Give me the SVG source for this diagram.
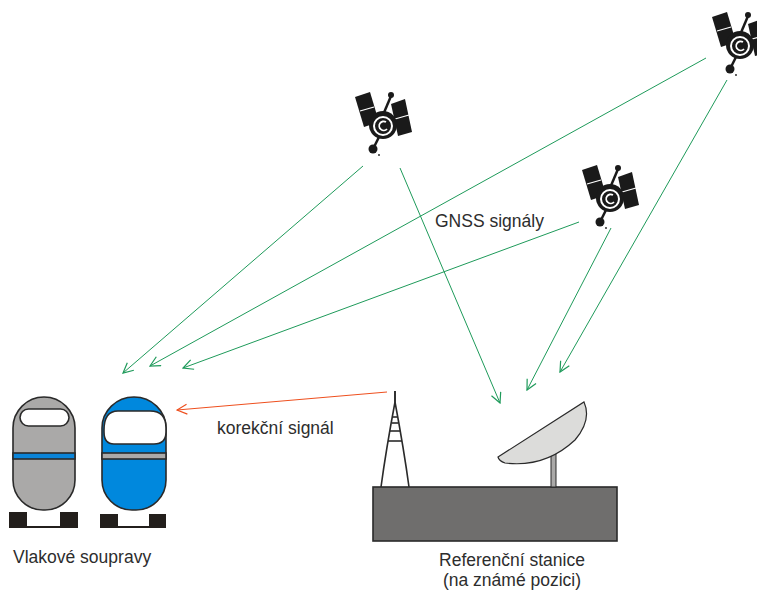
<svg xmlns="http://www.w3.org/2000/svg" width="757" height="590" viewBox="0 0 757 590">
  <style>
    .lbl { font-family: "Liberation Sans", Arial, sans-serif; font-size: 17.5px; fill: #2d2d2d; }
    .mid { text-anchor: middle; }
    .gnss { stroke: #1e9a5a; stroke-width: 1; fill: none; }
    .corr { stroke: #ee4f1e; stroke-width: 1; fill: none; }
    .outline { stroke: #2a2a2a; stroke-width: 1.6; }
  </style>
  <defs>
    <marker id="ahG" viewBox="0 0 12 12" refX="11" refY="6" markerWidth="12" markerHeight="12" markerUnits="userSpaceOnUse" orient="auto">
      <path d="M1,1 L11,6 L1,11" fill="none" stroke="#1e9a5a" stroke-width="1.2"/>
    </marker>
    <marker id="ahR" viewBox="0 0 12 12" refX="11" refY="6" markerWidth="12" markerHeight="12" markerUnits="userSpaceOnUse" orient="auto">
      <path d="M1,1 L11,6 L1,11" fill="none" stroke="#ee4f1e" stroke-width="1.2"/>
    </marker>
    <!-- satellite glyph, centred on its body -->
    <g id="sat">
      <polygon points="-28,-28 -13,-33 -4,-3 -19,2" fill="#1a1a1a"/>
      <line x1="-23" y1="-14" x2="-9" y2="-18" stroke="#fff" stroke-width="1.3"/>
      <polygon points="8,-21 22,-26 29,7 15,11" fill="#1a1a1a"/>
      <line x1="12" y1="-6" x2="26" y2="-10" stroke="#fff" stroke-width="1.3"/>
      <line x1="0" y1="-10" x2="8" y2="-29" stroke="#1a1a1a" stroke-width="2.5"/>
      <circle cx="8" cy="-30" r="3" fill="#1a1a1a"/>
      <line x1="-2" y1="8" x2="-9" y2="22" stroke="#1a1a1a" stroke-width="2.5"/>
      <circle cx="-10" cy="24" r="4.5" fill="#1a1a1a"/>
      <circle cx="-4" cy="30" r="0.9" fill="#1a1a1a"/>
      <circle cx="0" cy="0" r="14" fill="#1a1a1a"/>
      <circle cx="0" cy="1" r="9" fill="none" stroke="#fff" stroke-width="2"/>
      <path d="M3,-3 A4.5,4.5 0 1 0 4,4" fill="none" stroke="#fff" stroke-width="1.8"/>
    </g>
  </defs>

  <!-- satellites -->
  <g id="satellite-1"><use href="#sat" x="383" y="125"/></g>
  <g id="satellite-2"><use href="#sat" x="610" y="198"/></g>
  <g id="satellite-3"><use href="#sat" x="740" y="45"/></g>

  <!-- connectors -->
  <g id="connectors">
    <line class="gnss" x1="363" y1="166" x2="123" y2="373" marker-end="url(#ahG)"/>
    <line class="gnss" x1="400" y1="168" x2="500" y2="403" marker-end="url(#ahG)"/>
    <line class="gnss" x1="706" y1="58" x2="150" y2="366" marker-end="url(#ahG)"/>
    <line class="gnss" x1="727" y1="80" x2="560" y2="372" marker-end="url(#ahG)"/>
    <line class="gnss" x1="579" y1="222" x2="183" y2="368" marker-end="url(#ahG)"/>
    <line class="gnss" x1="611" y1="228" x2="527" y2="390" marker-end="url(#ahG)"/>
    <line class="corr" x1="387" y1="392" x2="177" y2="410" marker-end="url(#ahR)"/>
  </g>

  <!-- gray train -->
  <g id="train-gray">
    <rect x="9" y="512" width="69" height="16" fill="#231f1c"/>
    <rect x="27" y="512" width="33" height="14" fill="#fff"/>
    <path class="outline" d="M13,428 A31,31 0 0 1 75,428 L75,480 A30,30 0 0 1 45,510 L43,510 A30,30 0 0 1 13,480 Z" fill="#aaa9a8"/>
    <rect x="13" y="453" width="62" height="6" fill="#0a84d8" class="outline" stroke-width="1.2"/>
    <rect x="20" y="409" width="49" height="17" rx="8.5" fill="#fff" class="outline"/>
  </g>

  <!-- blue train -->
  <g id="train-blue">
    <rect x="100" y="514" width="66" height="14" fill="#231f1c"/>
    <rect x="118" y="514" width="31" height="12" fill="#fff"/>
    <path class="outline" d="M102,428 A32,31 0 0 1 166,428 L166,480 A30,30 0 0 1 136,510 L132,510 A30,30 0 0 1 102,480 Z" fill="#0088dd"/>
    <rect x="102" y="453" width="64" height="6" fill="#aaa9a8" class="outline" stroke-width="1.2"/>
    <path class="outline" d="M104,430 Q104,411 118,411 L150,411 Q166,411 166,428 L166,432 Q166,444 154,444 L114,444 Q104,444 104,432 Z" fill="#fff"/>
  </g>

  <!-- reference station -->
  <g id="reference-station">
    <rect x="373" y="487" width="244" height="54" fill="#6f6e6d" class="outline" stroke-width="1.2"/>
    <g id="antenna-mast" fill="none" stroke="#2a2a2a" stroke-width="1.6">
      <path d="M395,391 L395,402 Q386,450 381,487"/>
      <path d="M395,391 L395,402 Q404,450 409,487"/>
      <line x1="393" y1="417" x2="397" y2="417"/>
      <line x1="392" y1="423" x2="398" y2="423"/>
      <line x1="390" y1="431" x2="400" y2="431"/>
      <line x1="388" y1="441" x2="402" y2="441"/>
    </g>
    <g id="dish">
      <rect x="551" y="454" width="5" height="33" fill="#aaa9a8" stroke="#2a2a2a" stroke-width="1"/>
      <path d="M498,457 L584,402 Q592,420 575,440 Q545,468 505,463 Q499,461 498,457 Z" fill="#dcdcda" stroke="#2a2a2a" stroke-width="1.2"/>
    </g>
  </g>

  <!-- labels -->
  <text class="lbl" x="435" y="227">GNSS signály</text>
  <text class="lbl" x="217" y="434">korekční signál</text>
  <text class="lbl" x="13" y="563">Vlakové soupravy</text>
  <text class="lbl mid" x="512" y="566">Referenční stanice</text>
  <text class="lbl mid" x="512" y="586">(na známé pozici)</text>
</svg>
